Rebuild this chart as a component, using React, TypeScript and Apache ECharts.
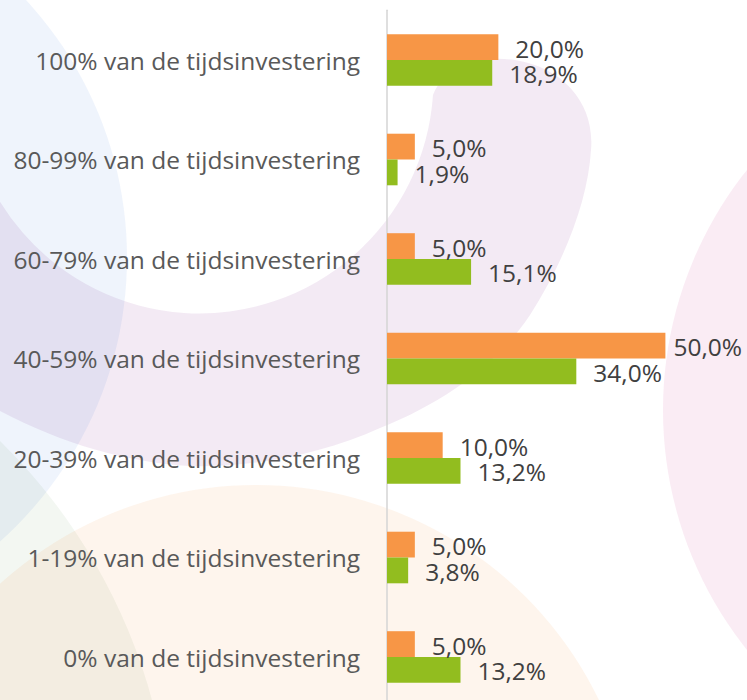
import React, { useEffect, useRef } from "react";
import * as echarts from "echarts";

const categories = [
  "0% van de tijdsinvestering",
  "1-19% van de tijdsinvestering",
  "20-39% van de tijdsinvestering",
  "40-59% van de tijdsinvestering",
  "60-79% van de tijdsinvestering",
  "80-99% van de tijdsinvestering",
  "100% van de tijdsinvestering",
];
const orangeValues = [5.0, 5.0, 10.0, 50.0, 5.0, 5.0, 20.0];
const greenValues = [13.2, 3.8, 13.2, 34.0, 15.1, 1.9, 18.9];

const FONT = "'Open Sans', 'Noto Sans', sans-serif";

const lavenderPath =
  "M 433 95 C 445 65 480 55 515 60 C 565 68 595 105 591 150 C 588 200 565 260 530 315 " +
  "C 500 360 450 400 380 428 C 320 455 250 468 190 466 C 120 462 50 440 -20 400 " +
  "L -60 380 L -60 64 L -34 64 A 234 234 0 0 0 433 95 Z";

let registered = false;
function registerShapes() {
  if (registered) return;
  registered = true;
  echarts.graphic.registerShape("lavender", echarts.graphic.extendPath(lavenderPath, {}));
}

const fmt = (v: number) => v.toFixed(1).replace(".", ",") + "%";

export default function App() {
  const ref = useRef<HTMLDivElement>(null);
  useEffect(() => {
    if (!ref.current) return;
    registerShapes();
    const chart = echarts.init(ref.current, null, { renderer: "svg" });
    const maxVal = Math.max(...orangeValues);
    const labelBase = {
      show: true,
      position: "right" as const,
      distance: 17,
      offset: [0, 1],
      fontFamily: FONT,
      fontSize: 24.5,
      color: "#404040",
      formatter: (p: any) => fmt(p.value),
    };
    chart.setOption({
      animation: false,
      backgroundColor: "#ffffff",
      graphic: [
        { type: "lavender", silent: true, z: -10, style: { fill: "rgba(125,25,135,0.09)" } },
        { type: "circle", silent: true, z: -10, shape: { cx: -253, cy: 258, r: 380 }, style: { fill: "rgba(30,105,217,0.07)" } },
        { type: "circle", silent: true, z: -10, shape: { cx: 1048, cy: 410, r: 385 }, style: { fill: "rgba(192,18,117,0.08)" } },
        { type: "circle", silent: true, z: -10, shape: { cx: -400, cy: 850, r: 572 }, style: { fill: "rgba(100,150,90,0.08)" } },
        { type: "circle", silent: true, z: -10, shape: { cx: 256, cy: 866, r: 381 }, style: { fill: "rgba(240,140,60,0.09)" } },
      ],
      grid: { left: 387, top: 10.25, width: 278.4, height: 696.5, containLabel: false },
      xAxis: {
        type: "value",
        min: 0,
        max: 50,
        show: false,
        splitLine: { show: false },
      },
      yAxis: {
        type: "category",
        data: categories,
        axisTick: { show: false },
        axisLine: { show: true, lineStyle: { color: "#d4d4d4", width: 1.5 } },
        axisLabel: { fontFamily: FONT, fontSize: 24.5, color: "#595959", margin: 27 },
        splitLine: { show: false },
      },
      series: [
        {
          name: "Serie 1",
          type: "bar",
          barWidth: 25.8,
          barGap: "0%",
          itemStyle: { color: "#F79646" },
          label: labelBase,
          data: orangeValues.map((v) =>
            v >= maxVal ? { value: v, label: { distance: 8 } } : v
          ),
        },
        {
          name: "Serie 2",
          type: "bar",
          barWidth: 25.8,
          barGap: "0%",
          itemStyle: { color: "#92BD1F" },
          label: labelBase,
          data: greenValues,
        },
      ],
    });
    return () => chart.dispose();
  }, []);
  return (
    <div
      ref={ref}
      style={{ position: "fixed", left: 0, top: 0, width: 747, height: 710, background: "#fff" }}
    />
  );
}
